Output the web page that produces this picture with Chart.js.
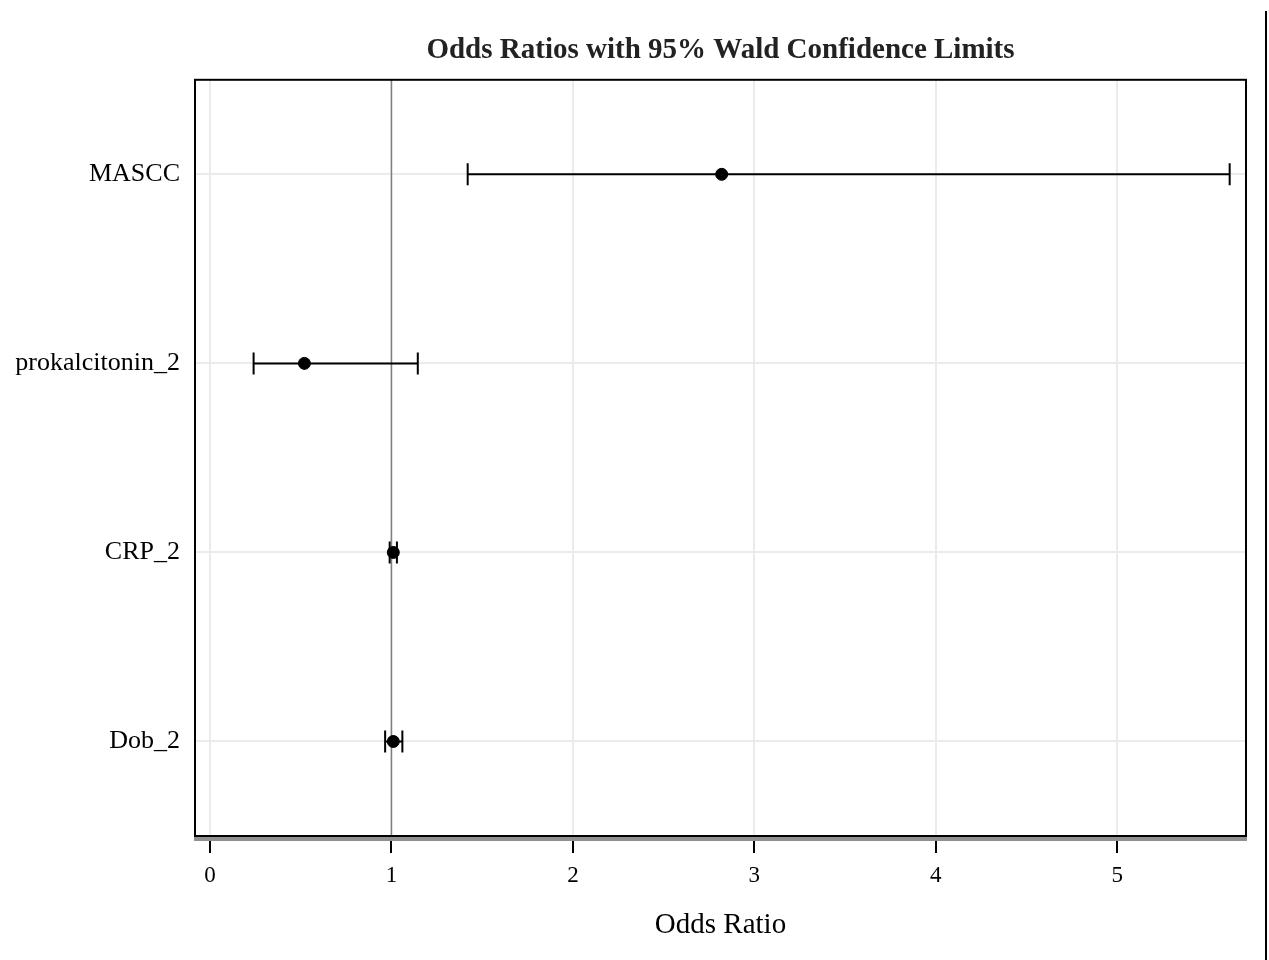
<!DOCTYPE html>
<html>
<head>
<meta charset="utf-8">
<script src="https://cdn.jsdelivr.net/npm/chart.js@4"></script>
<style>
  html, body { margin: 0; padding: 0; background: #fff; }
  #wrap { width: 1269px; height: 960px; }
</style>
</head>
<body>
<div id="wrap"><canvas id="graficoOdds"></canvas></div>
<script>
// Odds ratios with 95% Wald confidence limits
const effects = ['MASCC', 'prokalcitonin_2', 'CRP_2', 'Dob_2'];
const oddsRatio = [2.82, 0.52, 1.01, 1.01];
const lowerCL = [1.42, 0.24, 0.99, 0.965];
const upperCL = [5.62, 1.145, 1.03, 1.06];
const xTicks = [0, 1, 2, 3, 4, 5];

const serif = '"Liberation Serif", "DejaVu Serif", serif';

// whiskers + reference line at OR = 1
const errorBars = {
    id: 'errorBars',
    beforeDatasetsDraw(chart) {
        const { ctx, chartArea, scales: { x, y } } = chart;
        ctx.save();
        ctx.strokeStyle = '#808080';
        ctx.lineWidth = 1.5;
        ctx.beginPath();
        ctx.moveTo(x.getPixelForValue(1), chartArea.top);
        ctx.lineTo(x.getPixelForValue(1), chartArea.bottom);
        ctx.stroke();

        ctx.strokeStyle = '#000';
        ctx.lineWidth = 2;
        effects.forEach((name, i) => {
            const py = y.getPixelForValue(i);
            const x0 = x.getPixelForValue(lowerCL[i]);
            const x1 = x.getPixelForValue(upperCL[i]);
            ctx.beginPath();
            ctx.moveTo(x0, py);
            ctx.lineTo(x1, py);
            ctx.moveTo(x0, py - 11);
            ctx.lineTo(x0, py + 11);
            ctx.moveTo(x1, py - 11);
            ctx.lineTo(x1, py + 11);
            ctx.stroke();
        });
        ctx.restore();
    },
    afterDraw(chart) {
        const { ctx, chartArea: a } = chart;
        ctx.save();
        // gray shadow under the frame
        ctx.fillStyle = '#909090';
        ctx.fillRect(a.left - 1, a.bottom + 1, a.right - a.left + 2, 4);
        ctx.strokeStyle = '#000';
        ctx.lineWidth = 2;
        ctx.strokeRect(a.left, a.top, a.right - a.left, a.bottom - a.top);
        // page edge line on the right
        ctx.fillStyle = '#000';
        ctx.fillRect(1265, 11, 2, 949);
        ctx.restore();
    }
};

const ctxOdds = document.getElementById('graficoOdds').getContext('2d');
new Chart(ctxOdds, {
    type: 'scatter',
    data: {
        datasets: [{
            label: 'Odds Ratio',
            data: effects.map((name, i) => ({ x: oddsRatio[i], y: name })),
            backgroundColor: '#000',
            borderColor: '#000',
            pointRadius: 6,
            pointHoverRadius: 6
        }]
    },
    options: {
        responsive: true,
        maintainAspectRatio: false,
        animation: false,
        layout: { padding: { left: 0, right: 23, top: 0, bottom: 0 } },
        plugins: {
            legend: { display: false },
            tooltip: { enabled: false },
            title: {
                display: true,
                fullSize: false,
                text: 'Odds Ratios with 95% Wald Confidence Limits',
                color: '#222',
                font: { family: serif, size: 29, weight: 'bold', lineHeight: 1.2 },
                padding: { top: 33, bottom: 12 }
            }
        },
        scales: {
            x: {
                type: 'linear',
                min: -0.083,
                max: 5.71,
                afterBuildTicks: scale => { scale.ticks = xTicks.map(v => ({ value: v })); },
                afterFit: scale => { scale.height = 124; },
                grid: { color: '#ebebeb', lineWidth: 2, tickColor: '#000', tickLength: 17, tickWidth: 2 },
                border: { display: false },
                ticks: { color: '#000', padding: 9, font: { family: serif, size: 23 } },
                title: {
                    display: true,
                    text: 'Odds Ratio',
                    color: '#000',
                    font: { family: serif, size: 29, lineHeight: 1.2 },
                    padding: { top: 0, bottom: 17 }
                }
            },
            y: {
                type: 'category',
                labels: effects,
                offset: true,
                afterFit: scale => { scale.width = 195; },
                grid: { color: '#ebebeb', lineWidth: 2, offset: false, drawTicks: false },
                border: { display: false },
                ticks: { color: '#000', padding: 15, font: { family: serif, size: 26 } }
            }
        }
    },
    plugins: [errorBars]
});
</script>
</body>
</html>
